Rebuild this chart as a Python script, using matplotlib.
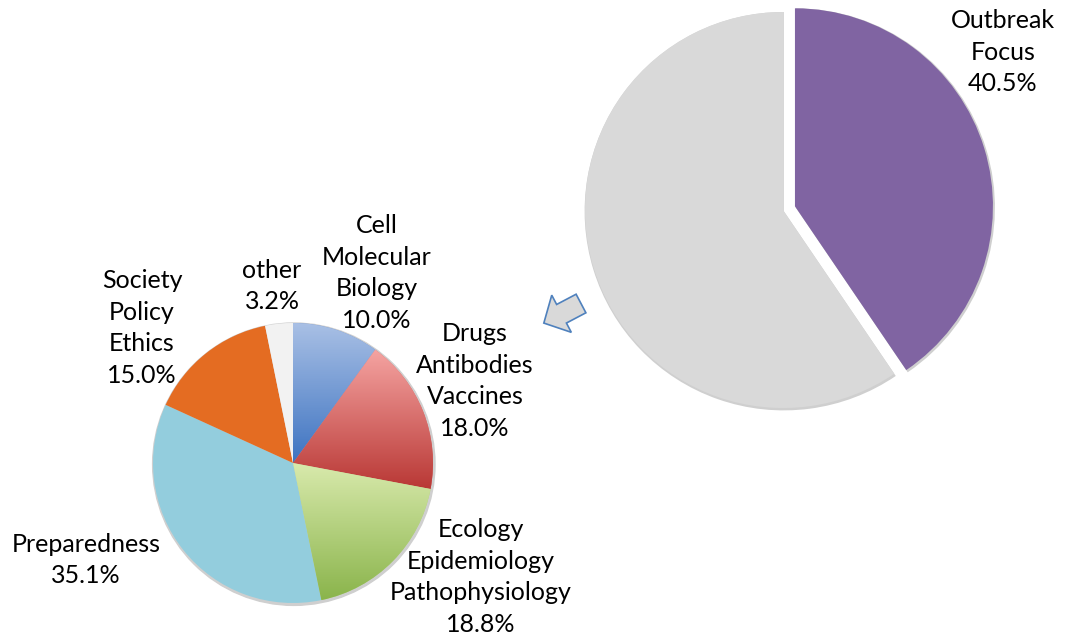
import numpy as np
import matplotlib
matplotlib.use("Agg")
import matplotlib.pyplot as plt
from matplotlib.colors import LinearSegmentedColormap
from matplotlib.patches import FancyArrow, Circle, Wedge

# ---- data ----
detail_labels = ["Cell\nMolecular\nBiology", "Drugs\nAntibodies\nVaccines",
                 "Ecology\nEpidemiology\nPathophysiology", "Preparedness",
                 "Society\nPolicy\nEthics", "other"]
detail_values = [10.0, 18.0, 18.8, 35.1, 15.0, 3.2]
overview_labels = ["Outbreak\nFocus", ""]
overview_values = [40.5, 59.5]

# ---- styles ----
W, H = 1071, 641
def Y(y):
    return H - y

detail_colors = ["#7295D2", "#D96A68", "#B3D27F", "#93CDDD", "#E46C22", "#F2F2F2"]
gradients = {0: ("#A9C0E5", "#3D73C1"), 1: ("#F5A4A2", "#B93835"), 2: ("#D9EAAD", "#8AB44B")}
overview_colors = ["#8064A2", "#D9D9D9"]

plt.rcParams['font.family'] = ['Lato', 'DejaVu Sans']
fig = plt.figure(figsize=(W / 100, H / 100), dpi=100)
ax = fig.add_axes([0, 0, 1, 1])

# small pie
c_small = (293, Y(463)); r_small = 140
ax.add_patch(Circle((c_small[0] + 0.8, c_small[1] - 1.2), r_small + 1.2, color="#CFCFCF", zorder=0.5))
wedges, _ = ax.pie(detail_values, colors=detail_colors, startangle=90, counterclock=False,
                   center=c_small, radius=r_small, frame=True,
                   wedgeprops=dict(linewidth=0))
for i, (top, bot) in gradients.items():
    w = wedges[i]
    ext = w.get_path().get_extents()
    cmap = LinearSegmentedColormap.from_list(f"g{i}", [bot, top])
    grad = np.linspace(0, 1, 256).reshape(-1, 1)
    im = ax.imshow(grad, cmap=cmap, origin="lower", aspect="auto",
                   extent=[ext.x0, ext.x1, ext.y0, ext.y1], zorder=w.get_zorder() + 0.1,
                   interpolation="bilinear")
    im.set_clip_path(w)

# big pie
c_big = (783, Y(210)); r_big = 198
wedges_big, _ = ax.pie(overview_values, colors=overview_colors, startangle=90, counterclock=False,
                       center=c_big, radius=r_big, frame=True, explode=[12.5, 0],
                       wedgeprops=dict(linewidth=0))
for w in wedges_big:
    sh = Wedge((w.center[0] + 0.8, w.center[1] - 1.2), w.r + 1.2, w.theta1, w.theta2,
               color="#CFCFCF", zorder=0.5, linewidth=0)
    ax.add_patch(sh)

# arrow (pointing down-left)
ux, uy = -0.885, -0.466
ax.add_patch(FancyArrow(581, Y(303.5), ux * 22, uy * 22, width=21, head_width=42,
                        head_length=20, length_includes_head=False,
                        facecolor="#D9D9D9", edgecolor="#4F81BD", linewidth=1.2, zorder=3))

# labels
fs = 18
def lab(x, y, s):
    ax.text(x, Y(y), s, ha="center", va="center", fontsize=fs, color="black",
            linespacing=1.47, zorder=5)

lab(1003, 52, "Outbreak\nFocus\n40.5%")
lab(377, 273, "Cell\nMolecular\nBiology\n10.0%")
lab(475, 381, "Drugs\nAntibodies\nVaccines\n18.0%")
lab(481, 577, "Ecology\nEpidemiology\nPathophysiology\n18.8%")
lab(86, 560, "Preparedness\n35.1%")
lab(142, 328, "Society\nPolicy\nEthics\n15.0%")
lab(272, 286, "other\n3.2%")

ax.set_xlim(0, W)
ax.set_ylim(0, H)
ax.set_aspect("equal")
ax.axis("off")
fig.savefig("out.png", dpi=100)
